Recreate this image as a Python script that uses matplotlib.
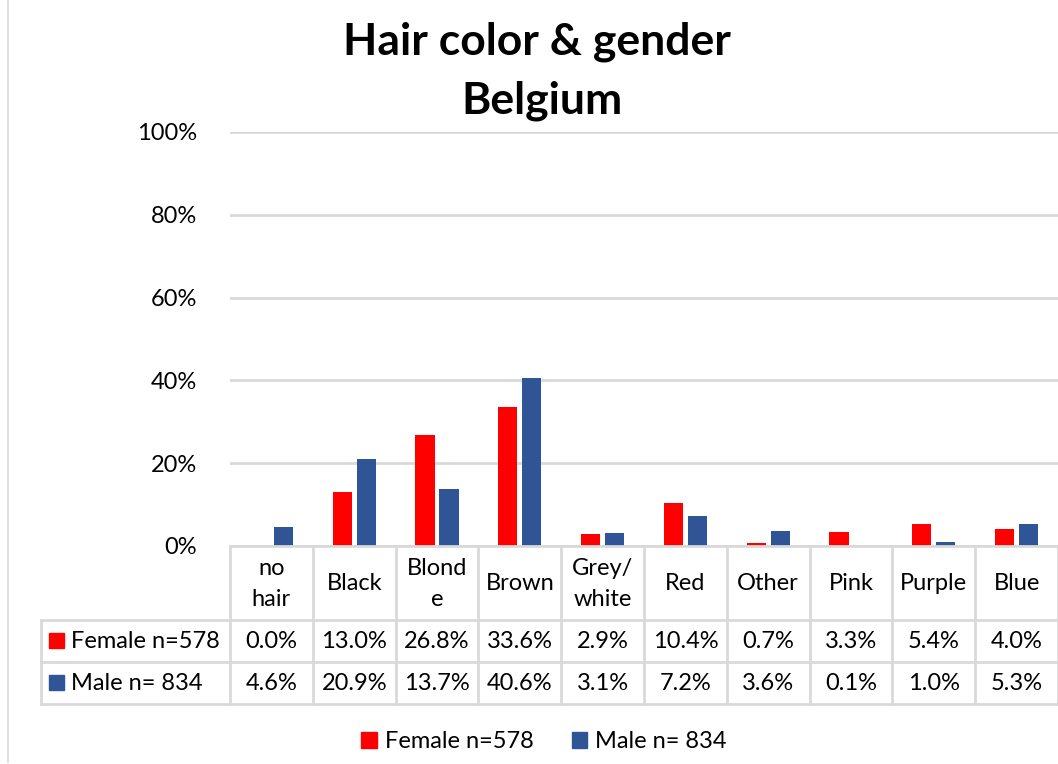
import matplotlib
matplotlib.use("Agg")
import matplotlib.pyplot as plt
from matplotlib.lines import Line2D
from matplotlib.patches import Patch, Rectangle
import matplotlib.transforms as mtransforms

plt.rcParams['font.family'] = ['Lato', 'DejaVu Sans']

categories = ["no\nhair", "Black", "Blond\ne", "Brown", "Grey/\nwhite", "Red", "Other", "Pink", "Purple", "Blue"]
female = [0.0, 13.0, 26.8, 33.6, 2.9, 10.4, 0.7, 3.3, 5.4, 4.0]
male = [4.6, 20.9, 13.7, 40.6, 3.1, 7.2, 3.6, 0.1, 1.0, 5.3]
series_names = ["Female n=578", "Male n= 834"]
colors = ["#FF0000", "#2F5597"]
yticks = [0, 20, 40, 60, 80, 100]

W, H = 1058, 764
FS = 17
fig = plt.figure(figsize=(W / 100, H / 100), dpi=100)
def fx(px): return px / W
def fy(py): return 1 - py / H

ax = fig.add_axes([fx(230), fy(546), fx(1058 - 230), (546 - 132) / H])
n = len(categories)
x = list(range(n))
bw = 0.23
off = 0.145
ax.bar([i - off for i in x], female, width=bw, color=colors[0], zorder=3)
ax.bar([i + off for i in x], male, width=bw, color=colors[1], zorder=3)
ax.set_xlim(-0.5, n - 0.5)
ax.set_ylim(0, 100)
ax.set_yticks(yticks)
ax.set_yticklabels([f"{t}%" for t in yticks], fontsize=FS)
ax.tick_params(axis='y', length=0, pad=24)
ax.set_xticks([])
ax.grid(axis='y', color='#D9D9D9', linewidth=2, zorder=0)
for s in ax.spines.values():
    s.set_visible(False)

grid_c = '#D9D9D9'
tr = mtransforms.blended_transform_factory(ax.transData, fig.transFigure)
# zero line
fig.add_artist(Line2D([-0.5, n - 0.5], [fy(546), fy(546)], transform=tr, color=grid_c, lw=2))
# table vertical lines
for i in range(n + 1):
    fig.add_artist(Line2D([i - 0.5, i - 0.5], [fy(546), fy(704)], transform=tr, color=grid_c, lw=2))
# horizontal lines
for yy in [620, 662, 704]:
    fig.add_artist(Line2D([fx(41), fx(1058)], [fy(yy), fy(yy)], transform=fig.transFigure, color=grid_c, lw=2))
fig.add_artist(Line2D([fx(41), fx(41)], [fy(620), fy(704)], transform=fig.transFigure, color=grid_c, lw=2))
# chart border
fig.add_artist(Line2D([fx(8), fx(8)], [fy(0), fy(762)], transform=fig.transFigure, color=grid_c, lw=1.2))

# header text
for i, c in enumerate(categories):
    t = fig.text(0, 0, c, ha='center', va='center', fontsize=FS, linespacing=1.6)
    t.set_transform(tr)
    t.set_position((i, fy(584)))
# values
for row, (vals, yy) in enumerate([(female, 641), (male, 683)]):
    for i, v in enumerate(vals):
        t = fig.text(0, 0, f"{v:.1f}%", ha='center', va='center', fontsize=FS)
        t.set_transform(tr)
        t.set_position((i, fy(yy)))
    fig.add_artist(Rectangle((fx(49), fy(yy + 7)), fx(15), 15 / H,
                             transform=fig.transFigure, color=colors[row]))
    fig.text(fx(71), fy(yy), series_names[row], ha='left', va='center', fontsize=FS)

# title
fig.text(fx(537), fy(42), "Hair color & gender", ha='center', va='center', fontsize=32, fontweight='bold')
fig.text(fx(542), fy(101), "Belgium", ha='center', va='center', fontsize=32, fontweight='bold')

# legend
handles = [Patch(color=colors[0]), Patch(color=colors[1])]
fig.legend(handles, series_names, loc='center', bbox_to_anchor=(fx(544), fy(742)), ncol=2,
           frameon=False, fontsize=FS, handlelength=0.65, handleheight=0.65, handletextpad=0.35,
           columnspacing=1.6)

fig.savefig("out.png", dpi=100)
